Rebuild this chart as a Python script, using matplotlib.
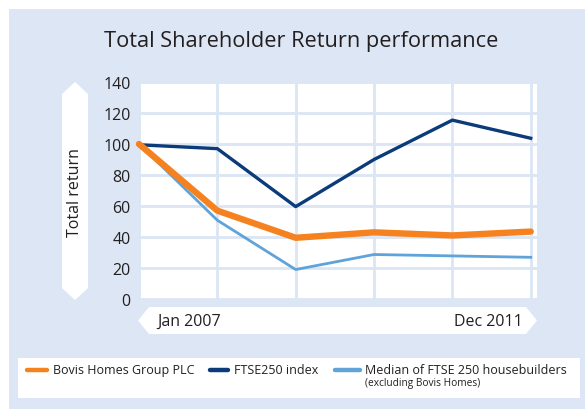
import matplotlib
matplotlib.use("Agg")
import matplotlib.pyplot as plt
from matplotlib.patches import Polygon, Rectangle
from matplotlib.lines import Line2D

# ---- data ----
periods = ["Jan 2007", "", "", "", "", "Dec 2011"]
bovis = [100, 57, 39.5, 43, 41, 43.5]
ftse250 = [99.5, 97, 59.6, 90, 115.4, 103.7]
median_hb = [100, 50.8, 19, 28.7, 27.8, 26.9]
series_names = ["Bovis Homes Group PLC", "FTSE250 index", "Median of FTSE 250 housebuilders"]
series_note = "(excluding Bovis Homes)"
yticks = [0, 20, 40, 60, 80, 100, 120, 140]
title = "Total Shareholder Return performance"
ylabel = "Total return"

# ---- style ----
W, H = 585, 410
PANEL = "#dde6f4"
GRID = "#dbe5f3"
C_ORANGE = "#f5821f"
C_NAVY = "#0b3b78"
C_LIGHT = "#5fa3d9"
TXT = "#231f20"
plt.rcParams['font.family'] = ['Open Sans', 'DejaVu Sans']

fig = plt.figure(figsize=(W / 100, H / 100), dpi=100)
fig.patch.set_facecolor("white")

def fx(x):
    return x / W

def fy(y):
    return 1 - y / H

# background panel
fig.patches.append(Rectangle((fx(9), 0), 1, fy(10), transform=fig.transFigure,
                             facecolor=PANEL, edgecolor="none", zorder=0))

# y-label arrow box
ybox = [(62, 95), (75, 83), (88, 95), (88, 289), (75, 301), (62, 289)]
fig.patches.append(Polygon([(fx(a), fy(b)) for a, b in ybox], closed=True,
                           transform=fig.transFigure, facecolor="white",
                           edgecolor="none", zorder=1))
# x-label arrow box
xbox = [(149, 308), (526, 308), (537, 321.5), (526, 335), (149, 335), (138, 321.5)]
fig.patches.append(Polygon([(fx(a), fy(b)) for a, b in xbox], closed=True,
                           transform=fig.transFigure, facecolor="white",
                           edgecolor="none", zorder=1))
# legend box
fig.patches.append(Rectangle((fx(18), fy(399)), fx(580) - fx(18), fy(359) - fy(399),
                             transform=fig.transFigure, facecolor="white",
                             edgecolor="none", zorder=1))

# axes
ax = fig.add_axes([fx(139), fy(300), fx(537) - fx(139), fy(83) - fy(300)])
ax.set_zorder(2)
ax.set_facecolor("white")
x = list(range(len(periods)))
ax.set_xlim(0, 5.08)
ax.set_ylim(0, 140)
ax.set_yticks(yticks)
ax.set_xticks(x)
ax.set_xticklabels([])
ax.tick_params(axis="both", length=0)
ax.tick_params(axis="y", pad=6, labelsize=11.5, labelcolor=TXT)
ax.grid(True, color=GRID, linewidth=2)
ax.set_axisbelow(True)
for s in ax.spines.values():
    s.set_visible(False)

ax.plot(x, median_hb, color=C_LIGHT, lw=2.0, zorder=3, clip_on=False)
ax.plot(x, ftse250, color=C_NAVY, lw=2.4, zorder=4, clip_on=False)
ax.plot(x, bovis, color=C_ORANGE, lw=4.6, zorder=5, clip_on=False,
        solid_capstyle="round", solid_joinstyle="round")

# texts
fig.text(fx(301), fy(42), title, ha="center", va="center", fontsize=15.7, color=TXT)
fig.text(fx(75), fy(193), ylabel, ha="center", va="center", rotation=90,
         fontsize=11.5, color=TXT, zorder=3)
fig.text(fx(157), fy(322), periods[0], ha="left", va="center", fontsize=11.5,
         color=TXT, zorder=3)
fig.text(fx(523), fy(322), periods[-1], ha="right", va="center", fontsize=11.5,
         color=TXT, zorder=3)

# legend
leg = [(27, 47, 53, C_ORANGE, 3.2), (210, 228, 234, C_NAVY, 3.2), (335, 360, 365, C_LIGHT, 3.2)]
for (x0, x1, tx, col, lw), name in zip(leg, series_names):
    fig.lines.append(Line2D([fx(x0), fx(x1)], [fy(371), fy(371)], transform=fig.transFigure,
                            color=col, lw=lw, solid_capstyle="round", zorder=3))
    fig.text(fx(tx), fy(371), name, ha="left", va="center", fontsize=9,
             color=TXT, zorder=3)
fig.text(fx(365), fy(384), series_note, ha="left", va="center", fontsize=7.3,
         color=TXT, zorder=3)

fig.savefig("out.png", dpi=100)
